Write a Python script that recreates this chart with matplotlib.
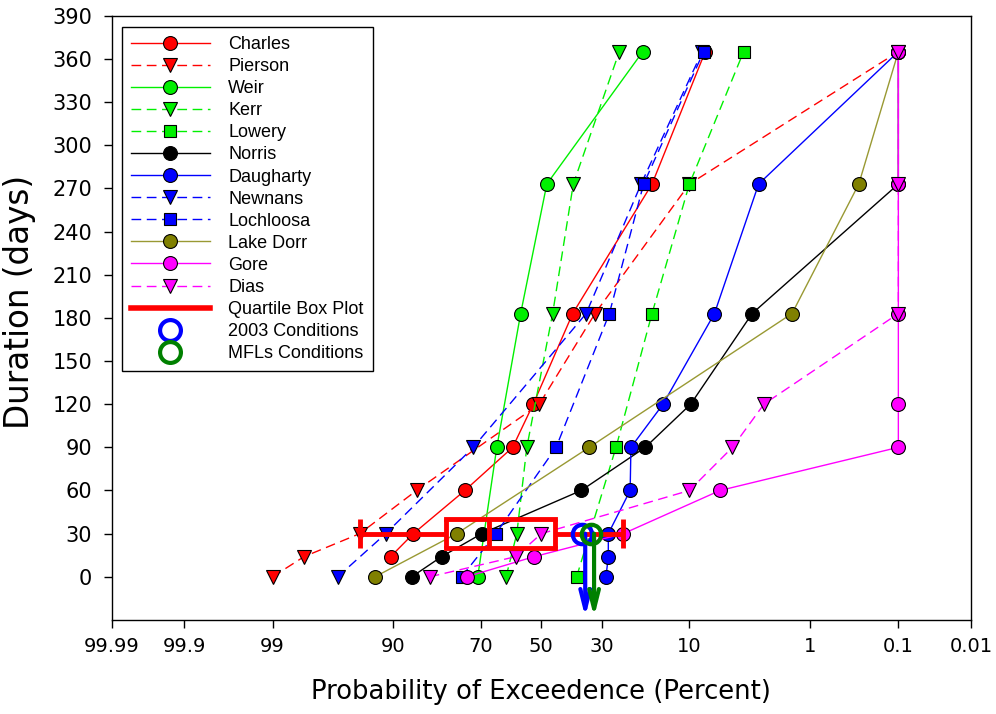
import math
from statistics import NormalDist
import numpy as np
import matplotlib
matplotlib.use("Agg")
import matplotlib.pyplot as plt
from matplotlib.lines import Line2D

plt.rcParams['font.family'] = ['Liberation Sans', 'DejaVu Sans']

# ---------------- data (probability of exceedence in percent, duration in days) -------------
charles_p = [90.4, 86.6, 74.6, 59.8, 52.8, 39.3, 16.9, 7.8]
charles_d = [14, 30, 60, 90, 120, 183, 273, 365]
pierson_p = [99.0, 98.0, 94.2, 86.0, 50.7, 32.1, 10.0, 0.1]
pierson_d = [0, 14, 30, 60, 120, 183, 273, 365]
weir_p = [70.9, 65.0, 57.1, 48.1, 19.0]
weir_d = [0, 90, 183, 273, 365]
kerr_p = [62.0, 58.4, 55.0, 46.1, 39.1, 25.0]
kerr_d = [0, 30, 90, 183, 273, 365]
lowery_p = [38.0, 25.9, 16.9, 10.0, 4.0]
lowery_d = [0, 90, 183, 273, 365]
norris_p = [86.9, 80.6, 69.7, 36.5, 18.4, 9.8, 3.4, 0.1, 0.1]
norris_d = [0, 14, 30, 60, 90, 120, 183, 273, 365]
daugharty_p = [28.8, 28.1, 28.1, 22.1, 21.9, 14.6, 6.7, 3.0, 0.1]
daugharty_d = [0, 14, 30, 60, 90, 120, 183, 273, 365]
newnans_p = [96.1, 91.1, 72.2, 34.9, 19.4, 8.2]
newnans_d = [0, 30, 90, 183, 273, 365]
lochloosa_p = [75.5, 65.3, 44.9, 27.8, 18.8, 8.0]
lochloosa_d = [0, 30, 90, 183, 273, 365]
lakedorr_p = [92.5, 76.8, 33.9, 1.5, 0.3, 0.1]
lakedorr_d = [0, 30, 90, 183, 273, 365]
gore_p = [74.1, 52.5, 23.9, 6.1, 0.1, 0.1, 0.1, 0.1, 0.1]
gore_d = [0, 14, 30, 60, 90, 120, 183, 273, 365]
dias_p = [83.3, 58.8, 50.0, 10.0, 4.9, 2.7, 0.1, 0.1, 0.1]
dias_d = [0, 14, 30, 60, 90, 120, 183, 273, 365]

# quartile box plot at 30 days
box_whisker = [94.2, 23.9]
box_q = [79.6, 67.4, 45.3]
box_day = 30
box_span = [20, 40]

cond_names = ['2003 Conditions', 'MFLs Conditions']
cond_p = [36.3, 33.4]
cond_arrow_p = [35.2, 32.4]
cond_day = 30
cond_arrow_end = -28

x_ticks = [99.99, 99.9, 99, 90, 70, 50, 30, 10, 1, 0.1, 0.01]
x_ticklabels = ['99.99', '99.9', '99', '90', '70', '50', '30', '10', '1', '0.1', '0.01']
y_ticks = list(range(0, 391, 30))

# ---------------- normal probability scale ----------------
_nd = NormalDist()

def _f1(v):
    if not math.isfinite(v):
        return float('nan')
    v = min(max(v, 1e-9), 100 - 1e-9)
    return _nd.inv_cdf(v / 100.0)

def _i1(z):
    if not math.isfinite(z):
        return float('nan')
    return 100.0 * _nd.cdf(z)

_fv = np.vectorize(_f1, otypes=[float])
_iv = np.vectorize(_i1, otypes=[float])

def fwd(p):
    return _fv(np.asarray(p, dtype=float))

def inv(z):
    return _iv(np.asarray(z, dtype=float))

fig = plt.figure(figsize=(9.96, 7.14), dpi=100)
ax = fig.add_axes([0.1121, 0.1317, 0.8628, 0.8463])
ax.set_xscale('function', functions=(fwd, inv))

RED = '#ff0000'
GRN = '#00f000'
BLU = '#0000ff'
OLV = '#808000'
MAG = '#ff00ff'
DASH = (0, (7, 4))

series = [
    ('Charles', charles_p, charles_d, RED, RED, '-', 'o'),
    ('Pierson', pierson_p, pierson_d, RED, RED, DASH, 'v'),
    ('Weir', weir_p, weir_d, GRN, GRN, '-', 'o'),
    ('Kerr', kerr_p, kerr_d, GRN, GRN, DASH, 'v'),
    ('Lowery', lowery_p, lowery_d, GRN, GRN, DASH, 's'),
    ('Norris', norris_p, norris_d, 'black', 'black', '-', 'o'),
    ('Daugharty', daugharty_p, daugharty_d, BLU, BLU, '-', 'o'),
    ('Newnans', newnans_p, newnans_d, BLU, BLU, DASH, 'v'),
    ('Lochloosa', lochloosa_p, lochloosa_d, BLU, BLU, DASH, 's'),
    ('Lake Dorr', lakedorr_p, lakedorr_d, '#999933', OLV, '-', 'o'),
    ('Gore', gore_p, gore_d, MAG, MAG, '-', 'o'),
    ('Dias', dias_p, dias_d, MAG, MAG, DASH, 'v'),
]

handles = []
for name, px, dy, lc, mc, ls, mk in series:
    ms = 10 if mk != 's' else 9
    ax.plot(px, dy, color=lc, linestyle=ls, linewidth=1.0, marker=mk,
            markersize=ms, markerfacecolor=mc, markeredgecolor='black',
            markeredgewidth=0.8, zorder=2)
    handles.append(Line2D([], [], color=lc, linestyle=ls, linewidth=1.0, marker=mk,
                          markersize=ms, markerfacecolor=mc, markeredgecolor='black',
                          markeredgewidth=0.8, label=name))

# quartile box plot
BW = 3.5
ax.plot([box_whisker[0], box_q[0]], [box_day, box_day], color=RED, lw=BW, zorder=3,
        solid_capstyle='butt')
ax.plot([box_q[2], box_whisker[1]], [box_day, box_day], color=RED, lw=BW, zorder=3,
        solid_capstyle='butt')
for xv in box_whisker:
    ax.plot([xv, xv], box_span, color=RED, lw=BW, zorder=3, solid_capstyle='butt')
for xv in box_q:
    ax.plot([xv, xv], box_span, color=RED, lw=BW, zorder=3, solid_capstyle='butt')
for yv in box_span:
    ax.plot([box_q[0], box_q[2]], [yv, yv], color=RED, lw=BW, zorder=3,
            solid_capstyle='projecting')
handles.append(Line2D([], [], color=RED, lw=4, label='Quartile Box Plot'))

cond_colors = [BLU, '#008000']
for name, pv, av, cc in zip(cond_names, cond_p, cond_arrow_p, cond_colors):
    ax.plot([pv], [cond_day], linestyle='none', marker='o', markersize=14,
            markerfacecolor='none', markeredgecolor=cc, markeredgewidth=3, zorder=4)
    ax.annotate('', xy=(av, cond_arrow_end), xytext=(av, cond_day),
                arrowprops=dict(arrowstyle='->,head_length=1.4,head_width=0.35',
                                color=cc, lw=3, shrinkA=0, shrinkB=0), zorder=4)
    handles.append(Line2D([], [], linestyle='none', marker='o', markersize=15,
                          markerfacecolor='none', markeredgecolor=cc,
                          markeredgewidth=3, label=name))

ax.set_xlim(99.99, 0.01)
ax.set_ylim(-30, 390)
ax.set_xticks(x_ticks)
ax.set_xticklabels(x_ticklabels)
ax.xaxis.set_minor_locator(matplotlib.ticker.NullLocator())
ax.set_yticks(y_ticks)
ax.tick_params(axis='both', direction='out', length=6, width=1)
ax.tick_params(axis='x', pad=6)
ax.tick_params(axis='y', pad=8)
for lab in ax.get_xticklabels():
    lab.set_fontfamily(['DejaVu Sans'])
    lab.set_fontsize(14)
for lab in ax.get_yticklabels():
    lab.set_fontfamily(['DejaVu Sans'])
    lab.set_fontsize(15)
for s in ax.spines.values():
    s.set_linewidth(1.0)

ax.set_xlabel('Probability of Exceedence (Percent)', fontsize=18.6, labelpad=17,
              family=['DejaVu Sans'])
ax.set_ylabel('Duration (days)', fontsize=23.5, family=['DejaVu Sans'])
ax.yaxis.set_label_coords(-0.088, 0.526)

leg = ax.legend(handles=handles, loc='upper left', bbox_to_anchor=(0.0116, 0.981),
                borderaxespad=0, fontsize=13, frameon=True, fancybox=False,
                edgecolor='black', handlelength=4.4, handletextpad=1.0,
                labelspacing=0.28, borderpad=0.5, framealpha=1)
leg.get_frame().set_linewidth(1.0)

fig.savefig('out.png', dpi=100)
